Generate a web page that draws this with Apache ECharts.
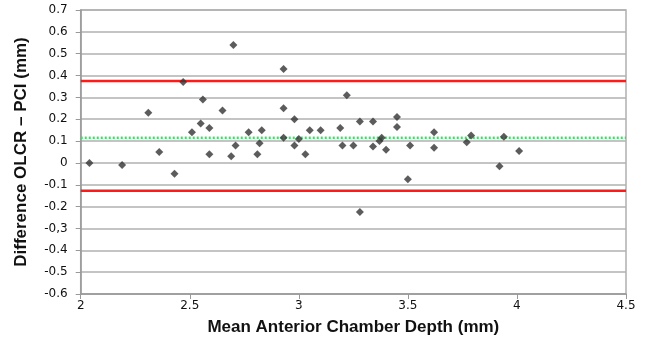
<!DOCTYPE html>
<html>
<head>
<meta charset="utf-8">
<script src="https://cdn.jsdelivr.net/npm/echarts@6/dist/echarts.min.js"></script>
<style>html,body{margin:0;padding:0;background:#fff}#c{width:648px;height:346px}</style>
</head>
<body>
<div id="c"></div>
<script>
const xValues = [2.04,2.19,2.31,2.36,2.43,2.47,2.51,2.55,2.56,2.59,2.59,2.65,2.70,2.69,2.71,2.77,2.83,2.82,2.81,2.93,2.93,2.93,2.98,2.98,3.00,3.03,3.05,3.10,3.22,3.19,3.20,3.28,3.25,3.28,3.34,3.34,3.37,3.38,3.40,3.45,3.45,3.51,3.50,3.62,3.62,3.77,3.79,3.94,3.92,4.01];
const yValues = [0.00,-0.01,0.23,0.05,-0.05,0.37,0.14,0.18,0.29,0.16,0.04,0.24,0.54,0.03,0.08,0.14,0.15,0.09,0.04,0.43,0.25,0.115,0.20,0.08,0.11,0.04,0.15,0.15,0.31,0.16,0.08,0.19,0.08,-0.225,0.19,0.075,0.10,0.115,0.06,0.21,0.165,0.08,-0.075,0.14,0.07,0.095,0.125,0.12,-0.015,0.055];
const upperLimit = 0.375;
const lowerLimit = -0.127;
const meanDiff = 0.115;
const yTickLabels = {"0.7":"0.7","0.6":"0.6","0.5":"0.5","0.4":"0.4","0.3":"0.3","0.2":"0.2","0.1":"0.1","0":"0","-0.1":"-0.1","-0.2":"-0.2","-0.3":"-0,3","-0.4":"-0.4","-0.5":"-0.5","-0.6":"-0.6"};
const xMin = 2, xMax = 4.5;

const pts = xValues.map((x,i)=>[x,yValues[i]]);
const chart = echarts.init(document.getElementById('c'));
chart.setOption({
  animation:false,
  grid:{left:80.7,right:22,top:10,bottom:52,show:true,borderColor:'#b0b0b0',borderWidth:1.5},
  xAxis:{type:'value',min:xMin,max:xMax,interval:0.5,
    name:'Mean Anterior Chamber Depth (mm)',nameLocation:'middle',nameGap:25,
    nameTextStyle:{fontFamily:'Liberation Sans',fontWeight:'bold',fontSize:17,color:'#111'},
    axisLine:{show:true,onZero:false,lineStyle:{color:'#999',width:1.5}},
    axisTick:{show:true,length:5,lineStyle:{color:'#999'}},
    axisLabel:{fontFamily:'DejaVu Sans',fontSize:12,color:'#111',margin:6},
    splitLine:{show:false}},
  yAxis:{type:'value',min:-0.6,max:0.7,interval:0.1,
    name:'Difference OLCR \u2013 PCI (mm)',nameLocation:'middle',nameGap:51,
    nameTextStyle:{fontFamily:'Liberation Sans',fontWeight:'bold',fontSize:17,color:'#111'},
    axisLine:{show:true,onZero:false,lineStyle:{color:'#999',width:1.5}},
    axisTick:{show:true,length:5,lineStyle:{color:'#999'}},
    axisLabel:{fontFamily:'DejaVu Sans',fontSize:12,color:'#111',margin:13,
      formatter:v=>{const k=String(Math.round(v*10)/10);return yTickLabels[k]!==undefined?yTickLabels[k]:k;}},
    splitLine:{show:true,lineStyle:{color:'#b0b0b0',width:1.5}}},
  series:[
    {type:'line',data:[[xMin,upperLimit],[xMax,upperLimit]],symbol:'none',lineStyle:{color:'#ff1a1a',width:2.5},z:3},
    {type:'line',data:[[xMin,lowerLimit],[xMax,lowerLimit]],symbol:'none',lineStyle:{color:'#ff1a1a',width:2.5},z:3},
    {type:'line',data:[[xMin,meanDiff],[xMax,meanDiff]],symbol:'none',lineStyle:{color:'#33e060',width:2.5,type:[2,2]},z:3},
    {type:'scatter',data:pts,symbol:'diamond',symbolSize:8,itemStyle:{color:'#333'},z:5}
  ]
});
</script>
</body>
</html>
